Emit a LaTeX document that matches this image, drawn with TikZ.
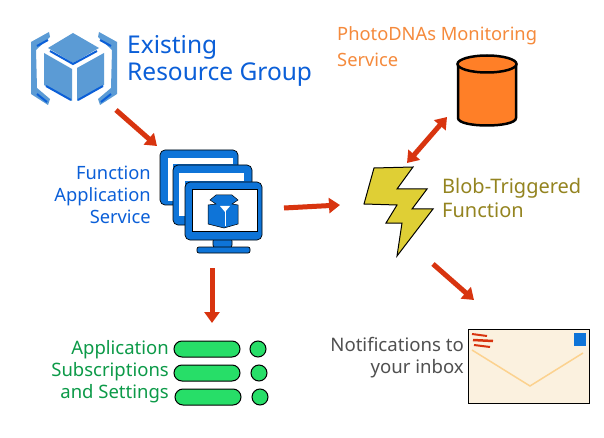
\documentclass[tikz,border=0pt]{standalone}
\usepackage{fontspec}
\setmainfont{Noto Sans}
\usepackage{tikz}
\usetikzlibrary{arrows.meta}
\usetikzlibrary{positioning}
\definecolor{flowred}{HTML}{D8340F}
\definecolor{cubelight}{HTML}{5B9BD5}
\definecolor{cubedark}{HTML}{0B5FD8}
\definecolor{screenblue}{HTML}{0E74D8}
\definecolor{pillgreen}{HTML}{27DE68}
\definecolor{dbfill}{HTML}{FF7F27}
\definecolor{boltfill}{HTML}{DFCF35}
\definecolor{mailfill}{HTML}{FBF1DF}
\definecolor{mailfold}{HTML}{FCD28F}
\definecolor{textgreen}{HTML}{0C9A48}
\definecolor{textorange}{HTML}{F58A3C}
\definecolor{textolive}{HTML}{948420}
\definecolor{textgray}{HTML}{505050}
\tikzset{
  flow/.style={draw=flowred,line width=5pt,-{Triangle[length=11pt,width=15pt]}},
  flowboth/.style={draw=flowred,line width=5pt,{Triangle[length=11pt,width=15pt]}-{Triangle[length=11pt,width=15pt]}},
  label/.style={inner sep=0pt},
  monbody/.style={draw=black,fill=screenblue,line width=0.7pt,rounded corners=5pt},
  monscreen/.style={draw=black,fill=white,line width=0.6pt},
  pill/.style={draw=black,fill=pillgreen,line width=1pt,rounded corners=8pt,minimum width=66pt,minimum height=16pt,inner sep=0pt},
  dot/.style={draw=black,fill=pillgreen,line width=1pt,circle,minimum size=16pt,inner sep=0pt},
  cubeface/.style={fill=cubelight},
  cubeedge/.style={draw=cubedark,line width=2pt},
}
\begin{document}
\begin{tikzpicture}[x=1pt,y=-1pt]
\useasboundingbox[fill=white] (0,0) rectangle (604,438);
% resource group cube
\fill[cubeface] (73,33) -- (99,48) -- (73,63) -- (48,48) -- cycle;
\draw[cubeedge] (50,51) -- (73,64) -- (97,51);
\fill[cubeface] (44,53) -- (72,69) -- (72,101) -- (44,85) -- cycle;
\fill[cubeface] (77,68) -- (104,53) -- (104,85) -- (77,101) -- cycle;
\draw[cubeedge] (46,86) -- (71,100);
\draw[cubeedge] (78,100) -- (103,86);
\fill[cubeface] (49,32) -- (31,42) -- (31,94) -- (48,105) -- (50,99) -- (37,88) -- (36,50) -- (50,37) -- cycle;
\fill[cubeface] (99,32) -- (117,42) -- (117,94) -- (100,105) -- (98,99) -- (111,88) -- (112,50) -- (98,37) -- cycle;
\draw[cubeedge] (37,46) -- (48,40);
\draw[cubeedge] (37,94) -- (47,102);
\draw[cubeedge] (111,46) -- (100,40);
\draw[cubeedge] (111,94) -- (101,102);
\node[label,anchor=west,text=cubedark,align=left,font=\fontsize{24.5}{27}\selectfont] (grouplabel) at (127,61) {Existing\\Resource Group};
% function app monitors
\draw[monbody] (160,150) rectangle (238,205);
\fill[white] (168,158) rectangle (233,164);
\fill[white] (168,158) rectangle (173,201);
\draw[monbody] (173,165) rectangle (252,225);
\fill[white] (179,173) rectangle (244,181);
\fill[white] (179,173) rectangle (185,216);
\draw[monbody] (213,236) rectangle (232,250);
\draw[monbody,rounded corners=2pt] (197,247) rectangle (250,253);
\draw[monbody] (185,182) rectangle (262,240);
\draw[monscreen] (192,189) rectangle (257,231);
\draw[fill=screenblue,line width=0.5pt] (210,200) -- (216,195) -- (232,195) -- (238,200) -- (232,204) -- (238,205) -- (238,224) -- (224,228) -- (208,224) -- (208,205) -- (216,204) -- cycle;
\draw[white,line width=1pt] (225,211) -- (225,226);
\fill[white] (220,206) -- (230,206) -- (225,212) -- cycle;
\node[label,anchor=east,text=cubedark,align=right,font=\fontsize{18.3}{22}\selectfont] (applabel) at (151,195) {Function\\Application\\Service};
% settings list
\node[pill] (pilla) at (207,349) {};
\node[pill] (pillb) at (207,373) {};
\node[pill] (pillc) at (208,397) {};
\foreach \dotname/\dotx/\doty in {dota/258/349,dotb/259/373,dotc/260/397}
  \node[dot] (\dotname) at (\dotx,\doty) {};
\node[label,anchor=east,text=textgreen,align=right,font=\fontsize{18.5}{22}\selectfont] (settingslabel) at (169,372) {Application\\Subscriptions\\and Settings};
% monitoring store
\draw[fill=dbfill,line width=2.5pt] (458,64) -- (458,118) .. controls (458,128) and (516,128) .. (516,118) -- (516,64);
\draw[fill=dbfill,line width=2.5pt] (487,64) ellipse [x radius=29.5pt,y radius=8.5pt];
\node[label,anchor=west,text=textorange,align=left,font=\fontsize{18.3}{26}\selectfont] (storelabel) at (337,47) {PhotoDNAs Monitoring\\Service};
% bolt
\draw[fill=boltfill,line width=1pt] (374,168) -- (413,167) -- (397,189) -- (427,189) -- (412,209) -- (433,209) -- (397,256) -- (402,223) -- (386,223) -- (397,205) -- (364,204) -- cycle;
\node[label,anchor=west,text=textolive,align=left,font=\fontsize{20}{24}\selectfont] (boltlabel) at (442,198) {Blob-Triggered\\Function};
% mail
\node[draw=black,fill=mailfill,line width=1pt,minimum width=121pt,minimum height=74pt,inner sep=0pt] (mail) at (528.5,366) {};
\draw[mailfold,line width=1.5pt] (472,350) -- (530,386) -- (583,353);
\fill[screenblue] (574,333) rectangle (586,346);
\draw[flowred,line width=2pt] (472,334) -- (487,336);
\draw[flowred,line width=2.5pt] (473,340) -- (493,341);
\draw[flowred,line width=2pt] (474,345) -- (490,347);
\node[label,anchor=east,text=textgray,align=right,font=\fontsize{18.6}{22}\selectfont] (maillabel) at (464,358) {Notifications to\\your inbox};
% arrows
\coordinate (groupout) at (116,110);
\coordinate (appin) at (157,146);
\coordinate (appout) at (284,208);
\coordinate (boltin) at (340,205);
\coordinate (appdown) at (212,268);
\coordinate (listin) at (212,323);
\coordinate (boltout) at (433,264);
\coordinate (mailin) at (474,300);
\coordinate (boltup) at (407,163);
\coordinate (storein) at (447,117);
\draw[flow] (groupout) -- (appin);
\draw[flow] (appout) -- (boltin);
\draw[flow] (appdown) -- (listin);
\draw[flow] (boltout) -- (mailin);
\draw[flowboth] (boltup) -- (storein);
\end{tikzpicture}
\end{document}
